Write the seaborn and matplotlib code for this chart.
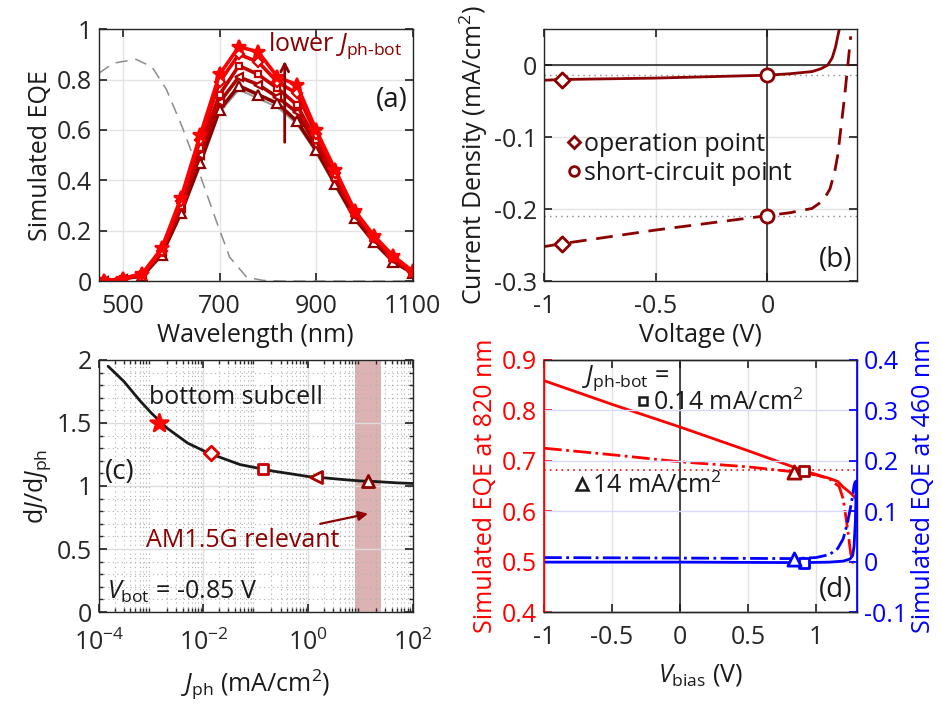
import numpy as np
import pandas as pd
import matplotlib
matplotlib.use("Agg")
import matplotlib.pyplot as plt
from matplotlib.ticker import FuncFormatter, LogLocator, NullFormatter, MultipleLocator, FixedLocator
from matplotlib.lines import Line2D
import seaborn as sns

# ---------------- data ----------------
# (a) simulated EQE spectra for different bottom-cell photocurrents
wavelength = [460, 500, 540, 580, 620, 660, 700, 740, 780, 820, 860, 900, 940, 980, 1020, 1060, 1100]
eqe_star = [0.00, 0.01, 0.03, 0.13, 0.33, 0.58, 0.82, 0.93, 0.91, 0.81, 0.78, 0.60, 0.44, 0.28, 0.18, 0.10, 0.04]
eqe_diamond = [0.00, 0.01, 0.03, 0.12, 0.32, 0.56, 0.79, 0.90, 0.87, 0.79, 0.745, 0.585, 0.43, 0.275, 0.175, 0.095, 0.035]
eqe_square = [0.00, 0.01, 0.025, 0.115, 0.30, 0.53, 0.74, 0.855, 0.82, 0.765, 0.70, 0.56, 0.41, 0.265, 0.17, 0.09, 0.035]
eqe_ltri = [0.00, 0.01, 0.025, 0.11, 0.29, 0.50, 0.71, 0.81, 0.78, 0.73, 0.67, 0.54, 0.40, 0.26, 0.165, 0.085, 0.03]
eqe_tri = [0.00, 0.01, 0.02, 0.105, 0.27, 0.47, 0.68, 0.775, 0.74, 0.705, 0.635, 0.52, 0.385, 0.25, 0.155, 0.078, 0.033]
eqe_grey = [0.00, 0.01, 0.02, 0.10, 0.265, 0.46, 0.67, 0.76, 0.725, 0.69, 0.625, 0.51, 0.375, 0.245, 0.15, 0.073, 0.028]
# top subcell EQE (grey dashed)
wl_top = [450, 480, 527, 560, 590, 623, 658, 693, 721, 756, 790, 830, 900, 1100]
eqe_top = [0.825, 0.865, 0.88, 0.85, 0.76, 0.61, 0.43, 0.24, 0.095, 0.016, 0.003, 0.0, 0.0, 0.0]

# (b) J-V curves of the bottom subcell
v_low = [-1.0, -0.92, -0.5, 0.0, 0.1, 0.2, 0.24, 0.27, 0.29, 0.305, 0.315, 0.322]
j_low = [-0.021, -0.020, -0.018, -0.014, -0.012, -0.009, -0.005, 0.0, 0.01, 0.025, 0.04, 0.05]
v_high = [-1.0, -0.92, -0.5, 0.0, 0.1, 0.2, 0.25, 0.28, 0.30, 0.315, 0.33, 0.345, 0.36, 0.373]
j_high = [-0.252, -0.248, -0.229, -0.209, -0.205, -0.199, -0.188, -0.172, -0.150, -0.125, -0.085, -0.045, 0.0, 0.04]
v_op = [-0.92, -0.92]
j_op = [-0.020, -0.248]
v_sc = [0.0, 0.0]
j_sc = [-0.014, -0.209]

# (c) differential photocurrent gain
jph_curve = [1.5e-4, 3e-4, 6e-4, 1e-3, 2e-3, 5e-3, 1e-2, 2e-2, 5e-2, 0.1, 0.2, 0.5, 1, 2, 5, 10, 20, 50, 100]
gain_curve = [1.95, 1.83, 1.68, 1.58, 1.46, 1.34, 1.28, 1.23, 1.17, 1.145, 1.12, 1.095, 1.075, 1.065, 1.05, 1.04,
              1.035, 1.025, 1.02]
jph_pts = [0.0014, 0.014, 0.14, 1.4, 14]
gain_pts = [1.50, 1.26, 1.135, 1.07, 1.04]
am15_band = [8, 25]

# (d) EQE vs bias voltage
v_r_sq = [-1.0, -0.5, 0.0, 0.5, 0.913, 1.0, 1.1, 1.16, 1.2, 1.25, 1.3]
eqe820_sq = [0.859, 0.812, 0.767, 0.720, 0.680, 0.673, 0.665, 0.659, 0.648, 0.637, 0.624]
v_r_tri = [-1.0, -0.5, 0.0, 0.5, 0.84, 1.0, 1.1, 1.17, 1.2, 1.22, 1.24, 1.255, 1.27, 1.28]
eqe820_tri = [0.725, 0.712, 0.698, 0.688, 0.678, 0.672, 0.664, 0.649, 0.625, 0.589, 0.55, 0.517, 0.50, 0.49]
v_b_sq = [-1.0, 0.0, 0.913, 1.1, 1.2, 1.25, 1.27, 1.28, 1.29, 1.297]
eqe460_sq = [-0.001, -0.001, -0.002, -0.001, 0.001, 0.005, 0.012, 0.03, 0.08, 0.16]
v_b_tri = [-1.0, 0.0, 0.84, 1.0, 1.1, 1.16, 1.2, 1.23, 1.26, 1.28, 1.29]
eqe460_tri = [0.008, 0.007, 0.006, 0.008, 0.014, 0.026, 0.045, 0.075, 0.115, 0.15, 0.16]
v_mark_sq, v_mark_tri = 0.913, 0.84
eqe820_mark_sq, eqe820_mark_tri = 0.680, 0.678
eqe460_mark_sq, eqe460_mark_tri = -0.002, 0.006
eqe_ref_level = 0.682

# ---------------- style ----------------
sns.set_theme(style="ticks")
plt.rcParams['font.family'] = ['Open Sans', 'DejaVu Sans']
plt.rcParams.update({
    'mathtext.fontset': 'custom',
    'mathtext.rm': 'Open Sans',
    'mathtext.it': 'Open Sans:italic',
    'mathtext.bf': 'Open Sans:bold',
    'axes.unicode_minus': False,
    'font.size': 18,
    'axes.labelsize': 18,
    'xtick.labelsize': 18,
    'ytick.labelsize': 18,
    'xtick.direction': 'in',
    'ytick.direction': 'in',
    'xtick.top': True,
    'ytick.right': True,
    'xtick.major.pad': 9,
    'ytick.major.pad': 5,
    'axes.labelpad': 3,
    'axes.edgecolor': '#262626',
    'axes.linewidth': 1.0,
    'text.color': '#1a1a1a',
    'axes.labelcolor': '#1a1a1a',
    'xtick.color': '#262626',
    'ytick.color': '#262626',
})

dred = '#8b0000'
reds = ['#ff0000', '#e00000', '#c40000', '#aa0000', '#8b0000']
gridc = '#e3e3e3'
fmt = FuncFormatter(lambda v, p: '%g' % v)

fig = plt.figure(figsize=(9.42, 7.1), dpi=100)
ax_a = fig.add_axes([0.105, 0.604, 0.333, 0.355])
ax_b = fig.add_axes([0.5775, 0.604, 0.332, 0.355])
ax_c = fig.add_axes([0.105, 0.138, 0.333, 0.355])
ax_d = fig.add_axes([0.5775, 0.138, 0.332, 0.355])

# ---------------- (a) ----------------
ax = ax_a
sns.lineplot(x=wl_top, y=eqe_top, ax=ax, color='#8c8c8c', lw=1.1, linestyle=(0, (8, 5)), errorbar=None)
sns.lineplot(x=wavelength, y=eqe_grey, ax=ax, color='#999999', lw=1.5, errorbar=None)
series = [(eqe_tri, '^', 7, reds[4]), (eqe_ltri, '<', 6, reds[3]), (eqe_square, 's', 5, reds[2]),
          (eqe_diamond, 'D', 5, reds[1]), (eqe_star, '*', 10, reds[0])]
for vals, mk, ms, c in series:
    sns.lineplot(x=wavelength, y=vals, ax=ax, color=c, lw=2.6, marker=mk, markersize=ms,
                 markeredgecolor=c, markeredgewidth=1.6,
                 markerfacecolor=(c if mk == '*' else 'white'), errorbar=None)
ax.set_xlim(450, 1100)
ax.set_ylim(0, 1)
ax.xaxis.set_major_locator(FixedLocator([500, 700, 900, 1100]))
ax.yaxis.set_major_locator(MultipleLocator(0.2))
ax.yaxis.set_major_formatter(fmt)
ax.grid(True, color=gridc, lw=1.0)
ax.set_axisbelow(True)
ax.set_xlabel('Wavelength (nm)')
ax.set_ylabel('Simulated EQE')
ax.annotate('', xy=(835, 0.885), xytext=(835, 0.54),
            arrowprops=dict(arrowstyle='->', color=dred, lw=2, mutation_scale=14))
ax.text(0.54, 0.935, r'lower $J_{\text{ph-bot}}$', transform=ax.transAxes, color=dred, fontsize=18,
        va='center', ha='left')
ax.text(0.985, 0.718, '(a)', transform=ax.transAxes, ha='right', va='center', fontsize=20, color='k')

# ---------------- (b) ----------------
ax = ax_b
ax.axhline(0, color='k', lw=1.1, zorder=1)
ax.axvline(0, color='k', lw=1.1, zorder=1)
ax.axhline(j_sc[0], color='#888888', lw=1.0, ls=(0, (1, 3)), zorder=1)
ax.axhline(j_sc[1], color='#888888', lw=1.0, ls=(0, (1, 3)), zorder=1)
sns.lineplot(x=v_low, y=j_low, ax=ax, color=dred, lw=2, errorbar=None)
sns.lineplot(x=v_high, y=j_high, ax=ax, color=dred, lw=2, linestyle=(0, (6, 3.5)), errorbar=None)
sns.scatterplot(x=v_op, y=j_op, ax=ax, marker='D', s=60, facecolor='white', edgecolor=dred, linewidth=2, zorder=5)
sns.scatterplot(x=v_sc, y=j_sc, ax=ax, marker='o', s=90, facecolor='white', edgecolor=dred, linewidth=2, zorder=5)
ax.set_xlim(-1, 0.4)
ax.set_ylim(-0.3, 0.05)
ax.xaxis.set_major_locator(FixedLocator([-1, -0.5, 0]))
ax.yaxis.set_major_locator(FixedLocator([-0.3, -0.2, -0.1, 0]))
ax.xaxis.set_major_formatter(fmt)
ax.yaxis.set_major_formatter(fmt)
ax.grid(True, color=gridc, lw=1.0)
ax.set_axisbelow(True)
ax.set_xlabel('Voltage (V)')
ax.set_ylabel('Current Density (mA/cm$^2$)')
handles = [Line2D([], [], ls='none', marker='D', ms=6, mfc='white', mec=dred, mew=2),
           Line2D([], [], ls='none', marker='o', ms=7, mfc='white', mec=dred, mew=2)]
ax.legend(handles, ['operation point', 'short-circuit point'], loc='center left', bbox_to_anchor=(0.035, 0.485),
          frameon=False, handlelength=0.5, handletextpad=0.15, labelspacing=0.15, borderpad=0, fontsize=18)
ax.text(0.985, 0.083, '(b)', transform=ax.transAxes, ha='right', va='center', fontsize=20, color='k')

# ---------------- (c) ----------------
ax = ax_c
ax.axvspan(am15_band[0], am15_band[1], color=dred, alpha=0.3, lw=0, zorder=0)
sns.lineplot(x=jph_curve, y=gain_curve, ax=ax, color='k', lw=2, errorbar=None)
pt_style = [('*', 170, reds[0], True), ('D', 55, reds[1], False), ('s', 45, reds[2], False),
            ('<', 75, reds[3], False), ('^', 75, reds[4], False)]
for xp, yp, (mk, sz, c, filled) in zip(jph_pts, gain_pts, pt_style):
    sns.scatterplot(x=[xp], y=[yp], ax=ax, marker=mk, s=sz, facecolor=(c if filled else 'white'),
                    edgecolor=c, linewidth=2, zorder=5)
ax.set_xscale('log')
ax.set_xlim(1e-4, 1e2)
ax.set_ylim(0, 2)
ax.xaxis.set_major_locator(FixedLocator([1e-4, 1e-2, 1e0, 1e2]))
ax.xaxis.set_minor_locator(LogLocator(base=10, subs=np.arange(2, 10), numticks=20))
ax.xaxis.set_minor_formatter(NullFormatter())
ax.yaxis.set_major_locator(MultipleLocator(0.5))
ax.yaxis.set_minor_locator(MultipleLocator(0.1))
ax.yaxis.set_major_formatter(fmt)
ax.grid(True, which='major', color='#dddddd', lw=1.0)
ax.grid(True, which='minor', color='#b0b0b0', lw=0.8, ls=(0, (1, 3)))
ax.tick_params(which='minor', direction='in', top=True, right=True, length=3)
ax.tick_params(axis='x', which='major', pad=13)
ax.set_axisbelow(True)
ax.set_xlabel(r'$J_{\text{ph}}$ (mA/cm$^2$)', labelpad=8)
ax.set_ylabel(r'd$J$/d$J_{\text{ph}}$')
ax.text(9e-4, 1.70, 'bottom subcell', fontsize=18, va='center', ha='left', color='k')
ax.text(0.02, 0.556, '(c)', transform=ax.transAxes, ha='left', va='center', fontsize=20, color='k')
ax.text(0.025, 0.08, r'$V_{\text{bot}}$ = -0.85 V', transform=ax.transAxes, ha='left', va='center',
        fontsize=18, color='k')
ax.annotate('AM1.5G relevant', xy=(14, 0.78), xytext=(0.057, 0.57), ha='center', va='center',
            color=dred, fontsize=18,
            arrowprops=dict(arrowstyle='-|>', color=dred, lw=1.6, mutation_scale=14, shrinkA=2, shrinkB=0))

# ---------------- (d) ----------------
ax = ax_d
ax2 = ax.twinx()
ax.axvline(0, color='k', lw=1.1, zorder=1)
ax.axhline(eqe_ref_level, color='red', lw=1.2, ls=(0, (1, 2.5)), zorder=1)
sns.lineplot(x=v_r_sq, y=eqe820_sq, ax=ax, color='red', lw=2, errorbar=None)
sns.lineplot(x=v_r_tri, y=eqe820_tri, ax=ax, color='red', lw=2, linestyle='-.', errorbar=None)
sns.scatterplot(x=[v_mark_sq], y=[eqe820_mark_sq], ax=ax, marker='s', s=50, facecolor='white',
                edgecolor='#a00000', linewidth=2, zorder=5)
sns.scatterplot(x=[v_mark_tri], y=[eqe820_mark_tri], ax=ax, marker='^', s=90, facecolor='white',
                edgecolor='#a00000', linewidth=2, zorder=5)
sns.lineplot(x=v_b_sq, y=eqe460_sq, ax=ax2, color='blue', lw=2, errorbar=None)
sns.lineplot(x=v_b_tri, y=eqe460_tri, ax=ax2, color='blue', lw=2, linestyle='-.', errorbar=None)
sns.scatterplot(x=[v_mark_sq], y=[eqe460_mark_sq], ax=ax2, marker='s', s=50, facecolor='white',
                edgecolor='blue', linewidth=2, zorder=5)
sns.scatterplot(x=[v_mark_tri], y=[eqe460_mark_tri], ax=ax2, marker='^', s=90, facecolor='white',
                edgecolor='blue', linewidth=2, zorder=5)
ax.set_xlim(-1, 1.3)
ax.set_ylim(0.4, 0.9)
ax2.set_ylim(-0.1, 0.4)
ax.xaxis.set_major_locator(FixedLocator([-1, -0.5, 0, 0.5, 1]))
ax.xaxis.set_major_formatter(fmt)
ax.yaxis.set_major_locator(MultipleLocator(0.1))
ax.yaxis.set_major_formatter(fmt)
ax2.yaxis.set_major_locator(MultipleLocator(0.1))
ax2.yaxis.set_major_formatter(fmt)
ax.grid(True, axis='x', color=gridc, lw=1.0)
ax2.grid(True, axis='y', color='#d8d8ff', lw=1.0)
ax.set_axisbelow(True)
ax2.set_axisbelow(True)
ax.tick_params(axis='y', colors='red', right=False)
ax2.tick_params(axis='y', colors='blue', direction='in', right=True, left=False)
ax2.tick_params(axis='x', top=False)
ax.spines['left'].set_color('red')
ax2.spines['left'].set_color('red')
ax2.spines['right'].set_color('blue')
ax.spines['right'].set_color('blue')
ax2.spines['left'].set_linewidth(1.2)
ax2.spines['right'].set_linewidth(1.2)
ax.set_xlabel(r'$V_{\text{bias}}$ (V)', labelpad=9)
ax.set_ylabel('Simulated EQE at 820 nm', color='red')
ax2.set_ylabel('Simulated EQE at 460 nm', color='blue')
ax.text(0.12, 0.93, r'$J_{\text{ph-bot}}$ =', transform=ax.transAxes, ha='left', va='center', fontsize=18, color='k')
sq_handle = [Line2D([], [], ls='none', marker='s', ms=6, mfc='white', mec='k', mew=1.8)]
tri_handle = [Line2D([], [], ls='none', marker='^', ms=8, mfc='white', mec='k', mew=1.8)]
leg1 = ax.legend(sq_handle, ['0.14 mA/cm$^2$'], loc='center left', bbox_to_anchor=(0.30, 0.83),
                 frameon=False, handlelength=0.4, handletextpad=0.2, borderpad=0, borderaxespad=0, fontsize=18)
ax.add_artist(leg1)
ax.legend(tri_handle, ['14 mA/cm$^2$'], loc='center left', bbox_to_anchor=(0.1, 0.50),
          frameon=False, handlelength=0.5, handletextpad=0.15, borderpad=0, borderaxespad=0, fontsize=18)
ax.text(0.985, 0.087, '(d)', transform=ax.transAxes, ha='right', va='center', fontsize=20, color='k')

fig.savefig('out.png', dpi=100)
